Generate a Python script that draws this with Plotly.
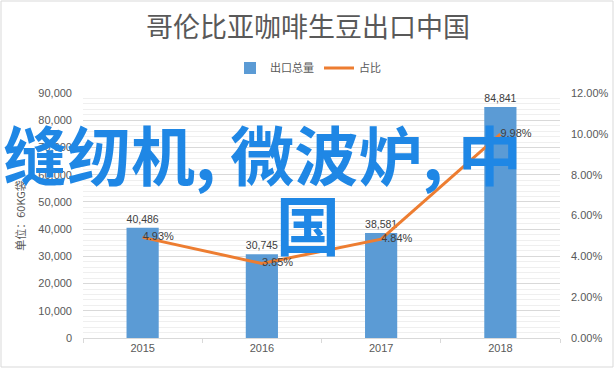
import plotly.graph_objects as go

years = ["2015", "2016", "2017", "2018"]
export_total = [40486, 30745, 38581, 84841]
share_pct = [4.93, 3.65, 4.84, 9.98]
title_text = "哥伦比亚咖啡生豆出口中国"
y_title = "单位：60KG袋"
bar_name = "出口总量"
line_name = "占比"
watermark_line1 = "缝纫机, 微波炉, 中"
watermark_line2 = "国"

W, H = 616, 369
L, R, T, B = 83, 56, 93, 31
pw, ph = W - L - R, H - T - B

def px_x(x):
    return (x - L) / pw

def px_y(y):
    return (H - B - y) / ph

GRAY = "#595959"
FONT = "Liberation Sans"

fig = go.Figure()
fig.add_trace(go.Bar(
    x=years, y=export_total, name=bar_name,
    marker=dict(color="#5B9BD5", line=dict(width=0)),
    width=0.27,
    text=[f"{v:,}" for v in export_total], textposition="outside",
    textfont=dict(size=11, color="#404040", family=FONT),
    cliponaxis=False,
))
fig.add_trace(go.Scatter(
    x=years, y=share_pct, name=line_name, yaxis="y2",
    mode="lines+text",
    line=dict(color="#ED7D31", width=3),
    text=[f"{v:.2f}%" for v in share_pct], textposition="middle right",
    textfont=dict(size=11, color="#404040", family=FONT),
    cliponaxis=False,
))

fig.update_layout(
    width=W, height=H,
    margin=dict(l=L, r=R, t=T, b=B, autoexpand=False),
    paper_bgcolor="white", plot_bgcolor="white",
    font=dict(family=FONT, size=11, color=GRAY),
    separators=".,",
    title=dict(text=title_text, x=px_x(308), xref="paper", xanchor="center",
               yref="container", y=1 - 28 / H, yanchor="middle",
               font=dict(family="Noto Sans CJK SC", size=27, color=GRAY)),
    showlegend=True,
    legend=dict(orientation="h", x=px_x(308), xanchor="center",
                y=px_y(68), yanchor="middle",
                font=dict(family="Noto Sans CJK SC", size=11, color=GRAY),
                itemwidth=30, traceorder="normal"),
    bargap=0.73,
    xaxis=dict(type="category", showgrid=False, showline=True, linecolor="#d9d9d9",
               ticks="outside", tickson="boundaries", ticklen=4, tickcolor="#d9d9d9",
               tickfont=dict(size=11, color=GRAY), zeroline=False, automargin=False),
    yaxis=dict(range=[0, 90000], dtick=10000, tickformat=",",
               gridcolor="#d9d9d9", gridwidth=1, zeroline=False, showline=False,
               ticklabelstandoff=10, automargin=False,
               minor=dict(dtick=2000, showgrid=True, gridcolor="#efefef", gridwidth=1),
               title=dict(text=y_title, standoff=10,
                          font=dict(family="Noto Sans CJK SC", size=11, color=GRAY)),
               tickfont=dict(size=11, color=GRAY)),
    yaxis2=dict(range=[0, 12], dtick=2, tickformat=".2f", ticksuffix="%",
                overlaying="y", side="right", showgrid=False, zeroline=False,
                showline=False, ticklabelstandoff=10, automargin=False,
                tickfont=dict(size=11, color=GRAY)),
)

wm_font = dict(family="Noto Sans CJK SC", size=64, color="#1F87E5", weight="bold")
fig.add_annotation(text=watermark_line1, xref="paper", yref="paper",
                   x=px_x(262), y=px_y(152), xanchor="center", yanchor="middle",
                   showarrow=False, font=wm_font)
fig.add_annotation(text=watermark_line2, xref="paper", yref="paper",
                   x=px_x(308), y=px_y(222), xanchor="center", yanchor="middle",
                   showarrow=False, font=wm_font)

fig.add_shape(type="rect", xref="paper", yref="paper",
              x0=px_x(1), x1=px_x(613), y0=px_y(367), y1=px_y(1),
              line=dict(color="#d9d9d9", width=1), layer="below")

fig.write_html("out.html", post_script="document.body.style.margin='0';",
               config={"displayModeBar": False})
